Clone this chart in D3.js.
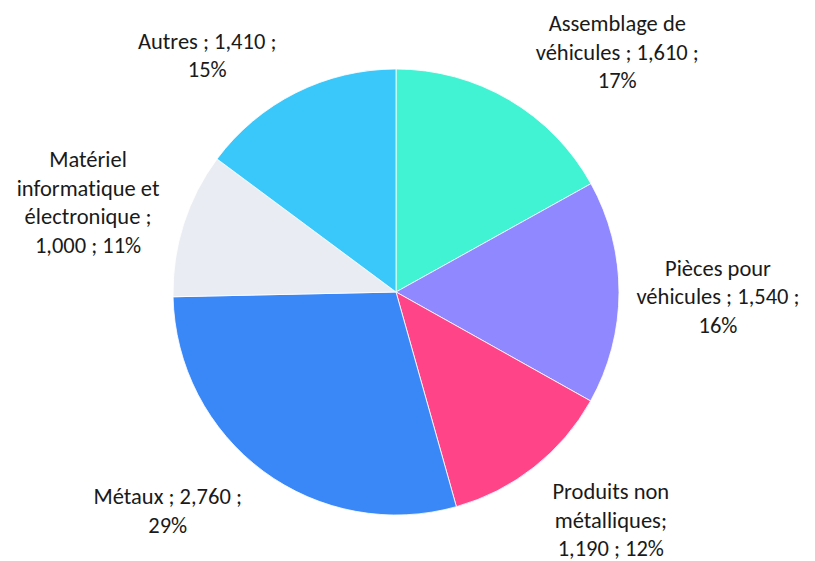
<html>
<head>
<script src="https://cdn.jsdelivr.net/npm/d3@7"></script>
<style>
  body { margin: 0; background: #fff; }
  text { font-family: Carlito, Calibri, Lato, "Open Sans", sans-serif; fill: #1a1a1a; font-variant-ligatures: none; }
</style>
</head>
<body>
<div id="container"></div>
<script>
// chart data
const categories = ["Assemblage de véhicules", "Pièces pour véhicules", "Produits non métalliques",
                    "Métaux", "Matériel informatique et électronique", "Autres"];
const values = [1610, 1540, 1190, 2760, 1000, 1410];
const percents = ["17%", "16%", "12%", "29%", "11%", "15%"];
const colors = ["#41F2D3", "#8F88FE", "#FF4488", "#3A88F8", "#E9EDF3", "#3AC8FB"];
// label lines as Excel wrapped them
const labelLines = [
  ["Assemblage de", "véhicules ; 1,610 ;", "17%"],
  ["Pièces pour", "véhicules ; 1,540 ;", "16%"],
  ["Produits non", "métalliques;", "1,190 ; 12%"],
  ["Métaux ; 2,760 ;", "29%"],
  ["Matériel", "informatique et", "électronique ;", "1,000 ; 11%"],
  ["Autres ; 1,410 ;", "15%"]
];
const labelNudge = [[60, 34], [4, 4], [18, -22], [-39, -37], [-5, 7], [-46, 47]];

const width = 815, height = 561;
const cx = 396, cy = 292, r = 223;

const svg = d3.select("#container").append("svg")
  .attr("width", width).attr("height", height);

const g = svg.append("g").attr("transform", `translate(${cx},${cy})`);

const pie = d3.pie().sort(null).value(d => d)(values);
const arc = d3.arc().innerRadius(0).outerRadius(r);
const labelArc = d3.arc().innerRadius(318).outerRadius(318);

g.selectAll("path")
  .data(pie)
  .join("path")
  .attr("d", arc)
  .attr("fill", (d, i) => colors[i])
  .attr("stroke", "#fff")
  .attr("stroke-width", 0.8);

const lineH = 28.5;
const labels = g.selectAll("g.lbl")
  .data(pie)
  .join("g")
  .attr("class", "lbl")
  .attr("transform", (d, i) => {
    const [x, y] = labelArc.centroid(d);
    return `translate(${x + labelNudge[i][0]},${y + labelNudge[i][1]})`;
  });

labels.each(function (d, i) {
  const lines = labelLines[i];
  const t = d3.select(this).append("text")
    .attr("text-anchor", "middle")
    .style("font-size", "22.5px");
  lines.forEach((s, j) => {
    t.append("tspan")
      .attr("x", 0)
      .attr("y", (j - (lines.length - 1) / 2) * lineH)
      .attr("dy", "0.35em")
      .text(s);
  });
});
</script>
</body>
</html>
